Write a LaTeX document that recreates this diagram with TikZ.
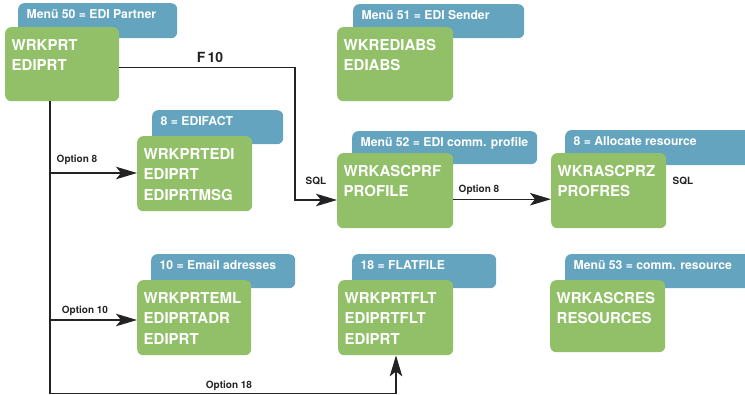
\documentclass[tikz,border=0pt]{standalone}
\usepackage{fontspec}
\setmainfont{TeX Gyre Heros}
\usetikzlibrary{arrows.meta}
\definecolor{tabblue}{RGB}{100,164,190}
\definecolor{boxgreen}{RGB}{146,192,105}
\definecolor{linecol}{RGB}{35,35,35}
\tikzset{
  tabbox/.style={fill=tabblue, rounded corners=6pt, inner sep=0pt, anchor=north west},
  gbox/.style={fill=boxgreen, rounded corners=6pt, inner sep=0pt, anchor=north west},
  gtext/.style={text=white, font=\bfseries\fontsize{15}{20.5}\selectfont, align=left, inner sep=0pt, anchor=north west, xshift=6.5pt, yshift=-12pt},
  ttext/.style={text=white, font=\bfseries\fontsize{12.2}{14}\selectfont, inner sep=0pt, anchor=base west, xshift=8.5pt, yshift=-16pt},
  lbl/.style={text=linecol, font=\bfseries\fontsize{10}{12}\selectfont, inner sep=0pt},
  wire/.style={draw=linecol, line width=1.1pt},
  conn/.style={wire, -{Stealth[length=21pt,width=12.5pt,inset=5pt]}}
}
\begin{document}
\begin{tikzpicture}[x=1pt,y=-1pt]
\useasboundingbox (0,0) rectangle (745,395);
% tabs
\node[tabbox, minimum width=159pt, minimum height=35pt] (t50) at (18,3) {};
\node[tabbox, minimum width=171pt, minimum height=34pt] (t51) at (353,4) {};
\node[tabbox, minimum width=131pt, minimum height=34pt] (t8) at (152,110) {};
\node[tabbox, minimum width=185pt, minimum height=33pt] (t52) at (352,131) {};
\node[tabbox, minimum width=195pt, minimum height=35pt] (t8a) at (565,130) {};
\node[tabbox, minimum width=144pt, minimum height=34pt] (t10) at (151,254) {};
\node[tabbox, minimum width=144pt, minimum height=34pt] (t18) at (352,254) {};
\node[tabbox, minimum width=195pt, minimum height=34pt] (t53) at (565,254) {};
\node[ttext] (tx50) at (t50.north west) {Menü 50 = EDI Partner};
\node[ttext] (tx51) at (t51.north west) {Menü 51 = EDI Sender};
\node[ttext] (tx8) at (t8.north west) {8 = EDIFACT};
\node[ttext] (tx52) at (t52.north west) {Menü 52 = EDI comm. profile};
\node[ttext] (tx8a) at (t8a.north west) {8 = Allocate resource};
\node[ttext] (tx10) at (t10.north west) {10 = Email adresses};
\node[ttext] (tx18) at (t18.north west) {18 = FLATFILE};
\node[ttext] (tx53) at (t53.north west) {Menü 53 = comm. resource};
% green boxes
\node[gbox, minimum width=114pt, minimum height=74pt] (b1) at (5,27) {};
\node[gbox, minimum width=116pt, minimum height=74pt] (b51) at (337,27) {};
\node[gbox, minimum width=115pt, minimum height=75pt] (bedi) at (137,136) {};
\node[gbox, minimum width=116pt, minimum height=75pt] (bprf) at (337,153) {};
\node[gbox, minimum width=115pt, minimum height=75pt] (bprz) at (551,153) {};
\node[gbox, minimum width=114pt, minimum height=75pt] (beml) at (137,280) {};
\node[gbox, minimum width=115pt, minimum height=75pt] (bflt) at (338,280) {};
\node[gbox, minimum width=115pt, minimum height=72pt] (bres) at (550,280) {};
\node[gtext] (g1) at (b1.north west) {WRKPRT\\EDIPRT};
\node[gtext] (g51) at (b51.north west) {WKREDIABS\\EDIABS};
\node[gtext] (gedi) at (bedi.north west) {WRKPRTEDI\\EDIPRT\\EDIPRTMSG};
\node[gtext] (gprf) at (bprf.north west) {WRKASCPRF\\PROFILE};
\node[gtext] (gprz) at (bprz.north west) {WKRASCPRZ\\PROFRES};
\node[gtext] (geml) at (beml.north west) {WRKPRTEML\\EDIPRTADR\\EDIPRT};
\node[gtext] (gflt) at (bflt.north west) {WRKPRTFLT\\EDIPRTFLT\\EDIPRT};
\node[gtext] (gres) at (bres.north west) {WRKASCRES\\RESOURCES};
% connectors
\coordinate (c1) at (295,200);
\draw[conn] ([yshift=-3pt]b1.east) -| (c1) -- (c1 -| bprf.west);
\coordinate (sp) at (50,393.5);
\coordinate (fx) at (396,393.5);
\draw[conn] (b1.south -| sp) -- (sp) -- (fx) -- (fx |- bflt.south);
\coordinate (o8) at (50,173);
\draw[conn] (o8) -- (o8 -| bedi.west);
\coordinate (o10) at (50,320);
\draw[conn] (o10) -- (o10 -| beml.west);
\draw[conn] ([yshift=-8.5pt]bprf.east) -- ([yshift=-8.5pt]bprz.west);
% labels
\node[lbl, font=\bfseries\fontsize{14}{16}\selectfont] (lf10) at (210,57) {F\,10};
\node[lbl] (lo8) at (77,160) {Option 8};
\node[lbl] (lsql1) at (316,181) {SQL};
\node[lbl] (lo8b) at (479,190) {Option 8};
\node[lbl] (lsql2) at (683,181) {SQL};
\node[lbl] (lo10) at (85,311) {Option 10};
\node[lbl] (lo18) at (229,386) {Option 18};
\end{tikzpicture}
\end{document}
